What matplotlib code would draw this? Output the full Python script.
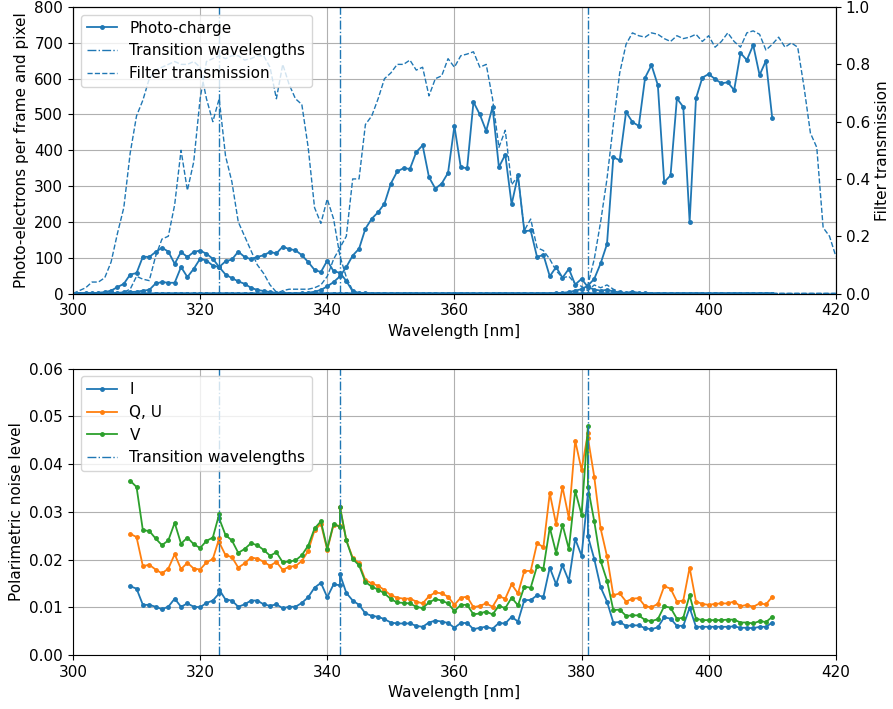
import numpy as np
import matplotlib
matplotlib.use("Agg")
import matplotlib.pyplot as plt

plt.rcParams['font.size'] = 11

# wavelength grids (nm)
wl_charge = np.arange(300, 411)      # photo-charge, 1 nm steps
wl_filter = np.arange(300, 421)      # filter curves, 1 nm steps
transitions = [323, 342, 381]

# photo-charge per filter [e- / frame / pixel], 300..410 nm
charge_1 = [0, 0, 1, 1, 2, 4, 8, 18, 27, 53,
            57, 103, 102, 116, 128, 117, 83, 116, 102, 116,
            120, 111, 97, 74, 53, 43, 34, 27, 16, 10,
            7, 4, 2, 1, 0, 0, 0, 0, 0, 0,
            0, 0, 0, 0, 0, 0, 0, 0, 0, 0,
            0, 0, 0, 0, 0, 0, 0, 0, 0, 0,
            0, 0, 0, 0, 0, 0, 0, 0, 0, 0,
            0, 0, 0, 0, 0, 0, 0, 0, 0, 0,
            0, 0, 0, 0, 0, 0, 0, 0, 0, 0,
            0, 0, 0, 0, 0, 0, 0, 0, 0, 0,
            0, 0, 0, 0, 0, 0, 0, 0, 0, 0,
            0]
charge_2 = [0, 0, 0, 0, 0, 1, 1, 2, 3, 4,
            5, 8, 10, 28, 32, 30, 30, 74, 46, 69,
            97, 92, 78, 74, 90, 95, 117, 102, 96, 102,
            107, 116, 112, 131, 124, 121, 107, 88, 66, 60,
            92, 62, 58, 35, 6, 2, 1, 0, 0, 0,
            0, 0, 0, 0, 0, 0, 0, 0, 0, 0,
            0, 0, 0, 0, 0, 0, 0, 0, 0, 0,
            0, 0, 0, 0, 0, 0, 0, 0, 0, 0,
            0, 0, 0, 0, 0, 0, 0, 0, 0, 0,
            0, 0, 0, 0, 0, 0, 0, 0, 0, 0,
            0, 0, 0, 0, 0, 0, 0, 0, 0, 0,
            0]
charge_3 = [0, 0, 0, 0, 0, 0, 0, 0, 0, 0,
            0, 0, 0, 0, 0, 0, 0, 0, 0, 0,
            0, 0, 0, 0, 0, 0, 0, 0, 0, 0,
            0, 0, 0, 0, 0, 0, 1, 2, 5, 10,
            20, 32, 48, 74, 106, 125, 181, 209, 227, 251,
            307, 341, 350, 348, 395, 414, 325, 293, 307, 337,
            468, 353, 350, 535, 500, 454, 521, 353, 388, 249,
            330, 174, 176, 102, 108, 48, 74, 44, 69, 25,
            41, 18, 11, 8, 10, 6, 3, 2, 5, 2,
            1, 0, 0, 0, 0, 0, 0, 0, 0, 0,
            0, 0, 0, 0, 0, 0, 0, 0, 0, 0,
            0]
charge_4 = [0, 0, 0, 0, 0, 0, 0, 0, 0, 0,
            0, 0, 0, 0, 0, 0, 0, 0, 0, 0,
            0, 0, 0, 0, 0, 0, 0, 0, 0, 0,
            0, 0, 0, 0, 0, 0, 0, 0, 0, 0,
            0, 0, 0, 0, 0, 0, 0, 0, 0, 0,
            0, 0, 0, 0, 0, 0, 0, 0, 0, 0,
            0, 0, 0, 0, 0, 0, 0, 0, 0, 0,
            0, 0, 0, 0, 0, 0, 1, 2, 4, 8,
            12, 22, 41, 84, 138, 381, 372, 507, 479, 468,
            603, 638, 582, 311, 330, 545, 521, 200, 545, 603,
            613, 599, 587, 590, 568, 672, 652, 694, 610, 650,
            489]

# filter transmission, 300..420 nm
filter_1 = [0.0, 0.01, 0.02, 0.04, 0.04, 0.055, 0.11, 0.21, 0.30, 0.49,
            0.62, 0.675, 0.75, 0.78, 0.79, 0.80, 0.81, 0.80, 0.80, 0.81,
            0.79, 0.68, 0.60, 0.68, 0.48, 0.39, 0.25, 0.20, 0.15, 0.10,
            0.07, 0.03, 0.005, 0.0, 0.0, 0.0, 0.0, 0.0, 0.0, 0.0,
            0.0, 0.0, 0.0, 0.0, 0.0, 0.0, 0.0, 0.0, 0.0, 0.0,
            0.0, 0.0, 0.0, 0.0, 0.0, 0.0, 0.0, 0.0, 0.0, 0.0,
            0.0, 0.0, 0.0, 0.0, 0.0, 0.0, 0.0, 0.0, 0.0, 0.0,
            0.0, 0.0, 0.0, 0.0, 0.0, 0.0, 0.0, 0.0, 0.0, 0.0,
            0.0, 0.0, 0.0, 0.0, 0.0, 0.0, 0.0, 0.0, 0.0, 0.0,
            0.0, 0.0, 0.0, 0.0, 0.0, 0.0, 0.0, 0.0, 0.0, 0.0,
            0.0, 0.0, 0.0, 0.0, 0.0, 0.0, 0.0, 0.0, 0.0, 0.0,
            0.0, 0.0, 0.0, 0.0, 0.0, 0.0, 0.0, 0.0, 0.0, 0.0,
            0.0]
filter_2 = [0.0, 0.0, 0.0, 0.0, 0.0, 0.0, 0.0, 0.0, 0.005, 0.015,
            0.06, 0.05, 0.045, 0.13, 0.19, 0.20, 0.31, 0.50, 0.36, 0.46,
            0.68, 0.81, 0.82, 0.83, 0.82, 0.83, 0.83, 0.815, 0.82, 0.83,
            0.83, 0.79, 0.68, 0.80, 0.73, 0.68, 0.66, 0.51, 0.30, 0.245,
            0.33, 0.26, 0.13, 0.057, 0.01, 0.0, 0.0, 0.0, 0.0, 0.0,
            0.0, 0.0, 0.0, 0.0, 0.0, 0.0, 0.0, 0.0, 0.0, 0.0,
            0.0, 0.0, 0.0, 0.0, 0.0, 0.0, 0.0, 0.0, 0.0, 0.0,
            0.0, 0.0, 0.0, 0.0, 0.0, 0.0, 0.0, 0.0, 0.0, 0.0,
            0.0, 0.0, 0.0, 0.0, 0.0, 0.0, 0.0, 0.0, 0.0, 0.0,
            0.0, 0.0, 0.0, 0.0, 0.0, 0.0, 0.0, 0.0, 0.0, 0.0,
            0.0, 0.0, 0.0, 0.0, 0.0, 0.0, 0.0, 0.0, 0.0, 0.0,
            0.0, 0.0, 0.0, 0.0, 0.0, 0.0, 0.0, 0.0, 0.0, 0.0,
            0.0]
filter_3 = [0.0, 0.0, 0.0, 0.0, 0.0, 0.0, 0.0, 0.0, 0.0, 0.0,
            0.0, 0.0, 0.0, 0.0, 0.0, 0.0, 0.0, 0.0, 0.0, 0.0,
            0.0, 0.0, 0.0, 0.0, 0.0, 0.0, 0.0, 0.0, 0.0, 0.0,
            0.0, 0.0, 0.0, 0.01, 0.015, 0.015, 0.015, 0.015, 0.02, 0.03,
            0.06, 0.12, 0.16, 0.20, 0.40, 0.40, 0.59, 0.62, 0.68, 0.75,
            0.77, 0.80, 0.80, 0.815, 0.78, 0.79, 0.69, 0.75, 0.76, 0.82,
            0.79, 0.83, 0.836, 0.844, 0.79, 0.80, 0.68, 0.51, 0.57, 0.38,
            0.41, 0.22, 0.26, 0.16, 0.15, 0.12, 0.08, 0.055, 0.06, 0.035,
            0.025, 0.01, 0.03, 0.02, 0.03, 0.015, 0.005, 0.0, 0.0, 0.0,
            0.0, 0.0, 0.0, 0.0, 0.0, 0.0, 0.0, 0.0, 0.0, 0.0,
            0.0, 0.0, 0.0, 0.0, 0.0, 0.0, 0.0, 0.0, 0.0, 0.0,
            0.0, 0.0, 0.0, 0.0, 0.0, 0.0, 0.0, 0.0, 0.0, 0.0,
            0.0]
filter_4 = [0.0, 0.0, 0.0, 0.0, 0.0, 0.0, 0.0, 0.0, 0.0, 0.0,
            0.0, 0.0, 0.0, 0.0, 0.0, 0.0, 0.0, 0.0, 0.0, 0.0,
            0.0, 0.0, 0.0, 0.0, 0.0, 0.0, 0.0, 0.0, 0.0, 0.0,
            0.0, 0.0, 0.0, 0.0, 0.0, 0.0, 0.0, 0.0, 0.0, 0.0,
            0.0, 0.0, 0.0, 0.0, 0.0, 0.0, 0.0, 0.0, 0.0, 0.0,
            0.0, 0.0, 0.0, 0.0, 0.0, 0.0, 0.0, 0.0, 0.0, 0.0,
            0.0, 0.0, 0.0, 0.0, 0.0, 0.0, 0.0, 0.0, 0.0, 0.0,
            0.0, 0.0, 0.0, 0.0, 0.0, 0.0, 0.0, 0.0, 0.0, 0.005,
            0.01, 0.03, 0.12, 0.25, 0.40, 0.59, 0.77, 0.87, 0.91, 0.90,
            0.895, 0.91, 0.905, 0.89, 0.88, 0.90, 0.89, 0.895, 0.905, 0.88,
            0.90, 0.86, 0.88, 0.91, 0.88, 0.86, 0.91, 0.917, 0.905, 0.85,
            0.87, 0.895, 0.86, 0.875, 0.86, 0.72, 0.56, 0.51, 0.23, 0.20,
            0.13]

# polarimetric noise, one block per filter (shared point at each transition)
noise_segments = [(309, 323), (323, 342), (342, 381), (381, 410)]
noise_I = [0.0144, 0.0139, 0.0105, 0.0105, 0.0101, 0.0096, 0.0101, 0.0118, 0.0101, 0.0108,
           0.0101, 0.0100, 0.0109, 0.0114, 0.0129,
           0.0137, 0.0116, 0.0114, 0.0101, 0.0106, 0.0114, 0.0114, 0.0106, 0.0103, 0.0106,
           0.0098, 0.0101, 0.0101, 0.0109, 0.0121, 0.0141, 0.0151, 0.0121, 0.0148, 0.0146,
           0.0169, 0.0130, 0.0114, 0.0105, 0.0087, 0.0082, 0.0080, 0.0075, 0.0068, 0.0066,
           0.0066, 0.0066, 0.0061, 0.0059, 0.0068, 0.0072, 0.0070, 0.0067, 0.0057, 0.0067,
           0.0067, 0.0054, 0.0057, 0.0059, 0.0055, 0.0067, 0.0066, 0.0080, 0.0070, 0.0115,
           0.0115, 0.0125, 0.0122, 0.0183, 0.0148, 0.0188, 0.0155, 0.0243, 0.0208, 0.0338,
           0.0249, 0.0201, 0.0142, 0.0112, 0.0068, 0.0069, 0.0061, 0.0062, 0.0062, 0.0056,
           0.0054, 0.0058, 0.0079, 0.0076, 0.0061, 0.0061, 0.0099, 0.0059, 0.0059, 0.0059,
           0.0059, 0.0059, 0.0059, 0.0060, 0.0057, 0.0057, 0.0056, 0.0059, 0.0059, 0.0068]
noise_QU = [0.0254, 0.0247, 0.0186, 0.0189, 0.0179, 0.0171, 0.0181, 0.0211, 0.0180, 0.0193,
            0.0181, 0.0179, 0.0194, 0.0201, 0.0244,
            0.0236, 0.0209, 0.0205, 0.0183, 0.0192, 0.0204, 0.0202, 0.0195, 0.0187, 0.0195,
            0.0178, 0.0185, 0.0186, 0.0197, 0.0218, 0.0261, 0.0275, 0.0220, 0.0273, 0.0270,
            0.0310, 0.0240, 0.0204, 0.0192, 0.0157, 0.0150, 0.0145, 0.0136, 0.0125, 0.0120,
            0.0118, 0.0118, 0.0112, 0.0108, 0.0123, 0.0131, 0.0129, 0.0122, 0.0105, 0.0120,
            0.0122, 0.0100, 0.0103, 0.0108, 0.0101, 0.0123, 0.0118, 0.0148, 0.0129, 0.0176,
            0.0176, 0.0234, 0.0226, 0.0339, 0.0274, 0.0352, 0.0287, 0.0449, 0.0388, 0.0465,
            0.0455, 0.0373, 0.0265, 0.0207, 0.0125, 0.0129, 0.0112, 0.0118, 0.0119, 0.0102,
            0.0100, 0.0107, 0.0144, 0.0139, 0.0112, 0.0114, 0.0183, 0.0112, 0.0107, 0.0105,
            0.0107, 0.0108, 0.0108, 0.0112, 0.0102, 0.0105, 0.0101, 0.0108, 0.0106, 0.0122]
noise_V = [0.0365, 0.0352, 0.0261, 0.0260, 0.0244, 0.0230, 0.0240, 0.0277, 0.0233, 0.0246,
           0.0232, 0.0224, 0.0239, 0.0246, 0.0295,
           0.0286, 0.0251, 0.0240, 0.0214, 0.0222, 0.0234, 0.0230, 0.0220, 0.0208, 0.0215,
           0.0194, 0.0196, 0.0198, 0.0209, 0.0229, 0.0265, 0.0280, 0.0223, 0.0275, 0.0268,
           0.0310, 0.0240, 0.0201, 0.0188, 0.0153, 0.0143, 0.0137, 0.0129, 0.0117, 0.0110,
           0.0109, 0.0108, 0.0101, 0.0098, 0.0110, 0.0117, 0.0114, 0.0108, 0.0092, 0.0105,
           0.0105, 0.0085, 0.0087, 0.0091, 0.0085, 0.0103, 0.0098, 0.0120, 0.0104, 0.0143,
           0.0141, 0.0186, 0.0181, 0.0267, 0.0214, 0.0273, 0.0222, 0.0344, 0.0294, 0.0479,
           0.0352, 0.0280, 0.0197, 0.0156, 0.0094, 0.0095, 0.0082, 0.0083, 0.0083, 0.0073,
           0.0071, 0.0075, 0.0102, 0.0099, 0.0076, 0.0078, 0.0125, 0.0076, 0.0073, 0.0073,
           0.0073, 0.0073, 0.0074, 0.0074, 0.0068, 0.0068, 0.0066, 0.0071, 0.0069, 0.0080]

wl_noise = np.concatenate([np.arange(a, b + 1) for a, b in noise_segments])

fig, (ax1, ax3) = plt.subplots(2, 1, figsize=(8.93, 7.09), dpi=100)
fig.subplots_adjust(left=0.0817, right=0.936, top=0.990, bottom=0.0762, hspace=0.262)

# --- top: photo-charge and filter transmission
for k, charge in enumerate([charge_1, charge_2, charge_3, charge_4]):
    l_pc, = ax1.plot(wl_charge, charge, 'o-', color='C0', ms=2.5, lw=1.3,
                     label='Photo-charge' if k == 0 else None)
for t in transitions:
    l_tr = ax1.axvline(t, color='C0', ls='-.', lw=1)
ax1.set_xlim(300, 420)
ax1.set_ylim(0, 800)
ax1.set_xlabel('Wavelength [nm]')
ax1.set_ylabel('Photo-electrons per frame and pixel')
ax1.grid(True)

ax2 = ax1.twinx()
for filt in [filter_1, filter_2, filter_3, filter_4]:
    l_ft, = ax2.plot(wl_filter, filt, '--', color='C0', lw=1)
ax2.set_ylim(0, 1.0)
ax2.set_ylabel('Filter transmission')
ax2.legend([l_pc, l_tr, l_ft],
           ['Photo-charge', 'Transition wavelengths', 'Filter transmission'],
           loc='upper left')

# --- bottom: polarimetric noise
ax3.plot(wl_noise, noise_I, 'o-', color='C0', ms=2.5, lw=1.3, label='I')
ax3.plot(wl_noise, noise_QU, 'o-', color='C1', ms=2.5, lw=1.3, label='Q, U')
ax3.plot(wl_noise, noise_V, 'o-', color='C2', ms=2.5, lw=1.3, label='V')
for i, t in enumerate(transitions):
    ax3.axvline(t, color='C0', ls='-.', lw=1,
                label='Transition wavelengths' if i == 0 else None)
ax3.set_xlim(300, 420)
ax3.set_ylim(0, 0.06)
ax3.set_xlabel('Wavelength [nm]')
ax3.set_ylabel('Polarimetric noise level')
ax3.grid(True)
ax3.legend(loc='upper left')

fig.savefig('out.png', dpi=100)
